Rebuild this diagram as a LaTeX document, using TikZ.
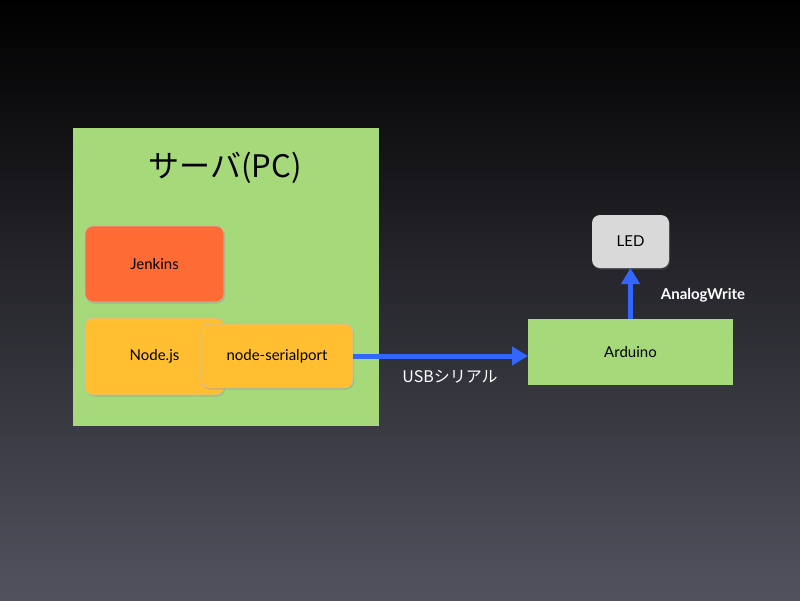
\documentclass[tikz,border=0pt]{standalone}
\usepackage{fontspec}
\setmainfont{Lato}
\newfontfamily\cjk{Noto Sans CJK JP}
\usetikzlibrary{arrows.meta,shadows}
\definecolor{grn}{HTML}{A6D97A}
\definecolor{org}{HTML}{FF6B35}
\definecolor{yel}{HTML}{FFBF30}
\definecolor{blu}{HTML}{3366FF}
\definecolor{bgtop}{HTML}{000000}
\definecolor{bgbot}{HTML}{52525F}
\begin{document}
\begin{tikzpicture}[x=1pt,y=-1pt,
  box/.style={draw=none,anchor=north west,inner sep=0,outer sep=0},
  rbox/.style={box,rounded corners=8pt,draw=black!25,line width=0.6pt,drop shadow={opacity=0.3,shadow xshift=1pt,shadow yshift=-1.5pt}},
  lbl/.style={font=\fontsize{15}{17}\selectfont,text=black},
  arr/.style={-{Triangle[length=16pt,width=18pt]},blu,line width=5pt}]
\shade[top color=bgtop,bottom color=bgbot] (0,0) rectangle (800,600);
\useasboundingbox (0,0) rectangle (800,600);
\node[box,fill=grn,minimum width=306pt,minimum height=298pt] (srv) at (73,128) {};
\node[font=\cjk\fontsize{31}{35}\selectfont] (title) at (225,168) {サーバ(PC)};
\node[rbox,fill=org,minimum width=139pt,minimum height=76pt] (jen) at (85,226) {};
\node[lbl] at (jen.center) {Jenkins};
\node[rbox,fill=yel,minimum width=139pt,minimum height=77pt] (nd) at (85,318) {};
\node[lbl] at (nd.center) {Node.js};
\node[rbox,fill=yel,minimum width=152pt,minimum height=64pt] (sp) at (201,324) {};
\node[lbl] at (sp.center) {node-serialport};
\node[box,fill=grn,minimum width=205pt,minimum height=66pt] (ard) at (528,319) {};
\node[lbl] at (ard.center) {Arduino};
\node[rbox,fill=black!15,draw=none,minimum width=77pt,minimum height=53pt] (led) at (592,215) {};
\node[lbl] at (led.center) {LED};
\draw[arr] (sp.east) -- (sp.east -| ard.west);
\node[text=white,font=\cjk\fontsize{16}{18}\selectfont] (usb) at (450,377) {USBシリアル};
\draw[arr] (ard.north) -- (led.south);
\node[text=white,font=\bfseries\fontsize{15}{17}\selectfont] (aw) at (703,295) {AnalogWrite};
\end{tikzpicture}
\end{document}
